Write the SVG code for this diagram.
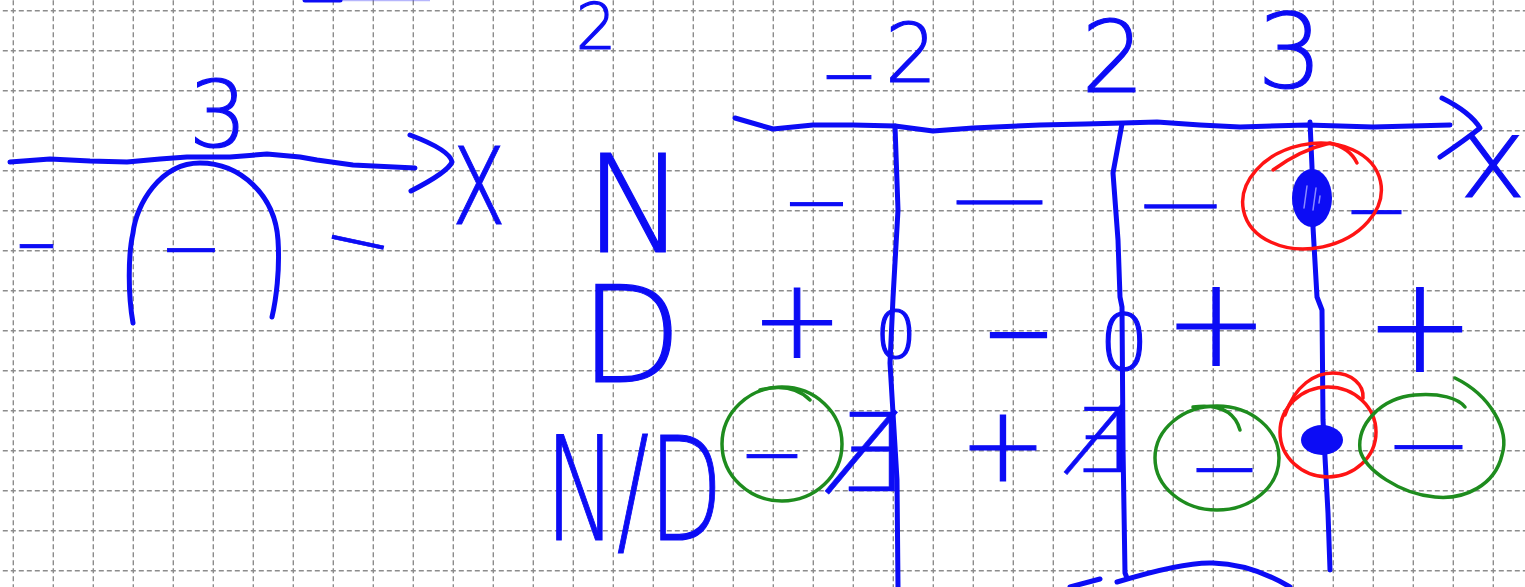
<svg xmlns="http://www.w3.org/2000/svg" width="1525" height="587" viewBox="0 0 1525 587">
<style>
.grid{fill:none;stroke:#8c8c8c;stroke-width:1.4}
.gv{stroke-dasharray:5 3;stroke-dashoffset:7.8}
.gh{stroke-dasharray:5 3;stroke-dashoffset:5.2}
.b{fill:none;stroke:#0c0cf5;stroke-width:5;stroke-linecap:round;stroke-linejoin:round}
.r{fill:none;stroke:#ff1414;stroke-width:3.5;stroke-linecap:round;stroke-linejoin:round}
.g{fill:none;stroke:#1e8c1e;stroke-width:3.5;stroke-linecap:round;stroke-linejoin:round}
.hw{font-family:"DejaVu Sans","Liberation Sans",sans-serif;font-weight:200;fill:#0c0cf5;stroke:#0c0cf5;stroke-width:1.2}
.mid{text-anchor:middle}
.mn{font-size:90px;stroke-width:0.6}
</style>
<rect width="1525" height="587" fill="#ffffff"/>
<g id="grid">
<path class="grid gv" d="M13.3,0V587M53.3,0V587M93.3,0V587M133.3,0V587M173.3,0V587M213.3,0V587M253.3,0V587M293.3,0V587M333.3,0V587M373.3,0V587M413.3,0V587M453.3,0V587M493.3,0V587M533.3,0V587M573.3,0V587M613.3,0V587M653.3,0V587M693.3,0V587M733.3,0V587M773.3,0V587M813.3,0V587M853.3,0V587M893.3,0V587M933.3,0V587M973.3,0V587M1013.3,0V587M1053.3,0V587M1093.3,0V587M1133.3,0V587M1173.3,0V587M1213.3,0V587M1253.3,0V587M1293.3,0V587M1333.3,0V587M1373.3,0V587M1413.3,0V587M1453.3,0V587M1493.3,0V587"/>
<path class="grid gh" d="M0,10.7H1525M0,50.7H1525M0,90.7H1525M0,130.7H1525M0,170.7H1525M0,210.7H1525M0,250.7H1525M0,290.7H1525M0,330.7H1525M0,370.7H1525M0,410.7H1525M0,450.7H1525M0,490.7H1525M0,530.7H1525M0,570.7H1525"/>
</g>
<g id="left-chart">
<path class="b" d="M305,0 L340,0" stroke-width="4"/>
<path d="M340,0.5 L430,0.5" stroke="#0c0cf5" stroke-opacity="0.3" stroke-width="1.5"/>
<path class="b" d="M10,162 L50,159 L90,161 L127,162 L160,159 L187,157 L230,157 L267,154 L300,157 L317,160 L353,165 L415,168"/>
<path class="b" d="M410,135 Q450,150 452,162 Q448,172 411,191"/>
<path class="b" d="M133,323 C128,295 128,255 133,233 C136,205 160,163 200,163 C240,163 275,195 278,240 C280,270 276,300 272,317"/>
<text class="hw mid" x="218" y="147" font-size="93">3</text>
<text class="hw mid" font-size="143" transform="translate(479,224) scale(0.65,1)">x</text>
<text class="hw mn" x="14" y="271" textLength="45" lengthAdjust="spacingAndGlyphs">-</text>
<text class="hw mn" x="159" y="275" textLength="64" lengthAdjust="spacingAndGlyphs">-</text>
<text class="hw mn" textLength="71" lengthAdjust="spacingAndGlyphs" transform="translate(318,259) rotate(12)">-</text>
</g>
<g id="labels">
<text class="hw mid" x="596" y="49" font-size="64">2</text>
<text class="hw mid" x="635" y="252" font-size="136">N</text>
<text class="hw mid" x="631" y="382" font-size="133">D</text>
<text class="hw" x="545" y="540" font-size="144" textLength="178" lengthAdjust="spacingAndGlyphs">N/D</text>
</g>
<g id="axis">
<path class="b" d="M735,118 L773,129 L813,125 L853,125 L895,126 L933,131 L973,128 L1040,125 L1085,124 L1123,123 L1157,122 L1200,125 L1240,127 L1307,125 L1373,127 L1450,125"/>
<path class="b" d="M1442,98 Q1470,112 1480,128 Q1465,140 1440,157"/>
<text class="hw mid" x="1493" y="197" font-size="113">x</text>
<text class="hw mn" x="819" y="102" textLength="60" lengthAdjust="spacingAndGlyphs">-</text>
<text class="hw mid" x="911" y="82" font-size="82">2</text>
<text class="hw mid" x="1113" y="92" font-size="100">2</text>
<text class="hw mid" x="1290" y="88" font-size="103">3</text>
</g>
<g id="sign-lines">
<path class="b" d="M895,126 L898,210 L893,298 L890,363 L897,480 L898,587"/>
<path class="b" d="M1122,124 L1113,173 L1118,240 L1120,297 L1122,307 L1123,447 L1125,573 L1127,578"/>
<path class="b" d="M1310,122 L1312,167 L1313,227 L1317,297 L1322,310 L1323,420 L1328,513 L1330,570"/>
<path class="b" d="M1117,582 C1150,572 1190,562 1213,563 C1245,564 1270,575 1290,587"/>
<path class="b" d="M1070,587 L1100,579"/>
</g>
<g id="row-N">
<text class="hw mn" x="781" y="229" textLength="71" lengthAdjust="spacingAndGlyphs">-</text>
<text class="hw mn" x="942" y="227" textLength="115" lengthAdjust="spacingAndGlyphs">-</text>
<text class="hw mn" x="1132" y="231" textLength="97" lengthAdjust="spacingAndGlyphs">-</text>
<text class="hw mn" x="1343" y="237" textLength="67" lengthAdjust="spacingAndGlyphs">-</text>
<ellipse cx="1312" cy="198" rx="20" ry="29" fill="#0c0cf5"/>
<path d="M1304,208 L1307,186 M1316,188 L1313,210 M1320,196 L1319,203" stroke="#8a8aff" stroke-width="1.5" fill="none" stroke-linecap="round"/>
<ellipse class="r" cx="1312" cy="196" rx="70" ry="52" transform="rotate(-12 1312 196)"/>
<path class="r" d="M1273,170 Q1300,150 1330,143 Q1350,148 1357,163"/>
</g>
<g id="row-D">
<text class="hw mid" x="797" y="358" font-size="110">+</text>
<text class="hw mid" x="896" y="358" font-size="66">0</text>
<text class="hw mn" x="983" y="360" textLength="71" lengthAdjust="spacingAndGlyphs" style="stroke-width:2.5">-</text>
<text class="hw mid" x="1124" y="370" font-size="78">0</text>
<text class="hw mid" x="1216" y="366" font-size="125">+</text>
<text class="hw mid" x="1420" y="371" font-size="133">+</text>
</g>
<g id="row-ND">
<ellipse class="g" cx="782" cy="444" rx="60" ry="57"/>
<path class="g" d="M760,390 Q792,382 810,400"/>
<text class="hw mn" x="738" y="481" textLength="68" lengthAdjust="spacingAndGlyphs">-</text>
<text class="hw" x="836" y="491" font-size="108" style="stroke-width:0.6">∄</text>
<text class="hw mid" x="1003" y="481" font-size="105">+</text>
<text class="hw" x="1073" y="472" font-size="89" style="stroke-width:0.6">∄</text>
<ellipse class="g" cx="1217" cy="458" rx="62" ry="52"/>
<path class="g" d="M1193,407 Q1232,402 1240,430"/>
<text class="hw mn" x="1187" y="495" textLength="75" lengthAdjust="spacingAndGlyphs">-</text>
<ellipse cx="1322" cy="440" rx="21" ry="15" fill="#0c0cf5"/>
<ellipse class="r" cx="1328" cy="432" rx="48" ry="45"/>
<path class="r" d="M1285,415 C1295,385 1315,373 1333,373 C1352,373 1364,385 1363,398"/>
<path class="g" d="M1455,378 C1490,395 1510,430 1502,455 C1495,485 1465,500 1435,497 C1400,494 1365,470 1360,450 C1357,425 1380,398 1415,395 C1440,393 1458,398 1465,407"/>
<text class="hw mn" x="1383" y="472" textLength="91" lengthAdjust="spacingAndGlyphs">-</text>
</g>
</svg>
